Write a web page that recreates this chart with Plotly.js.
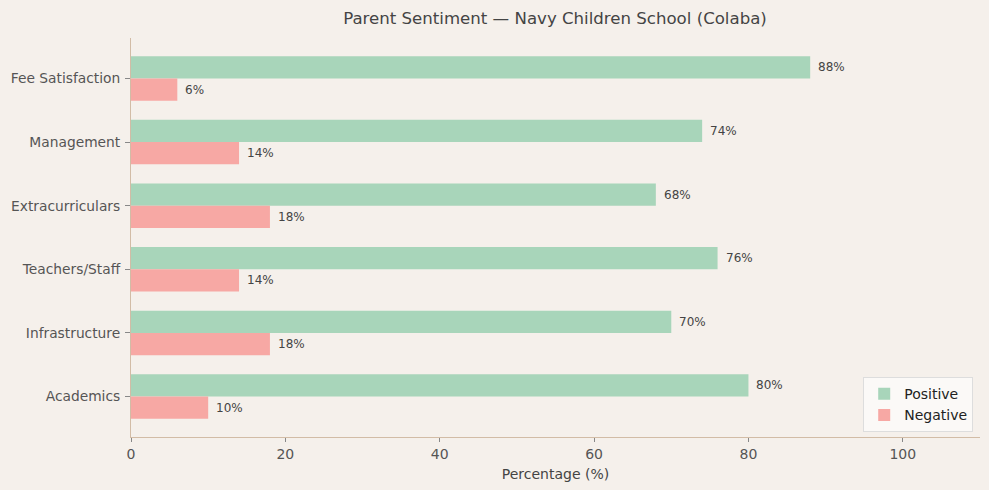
<!DOCTYPE html>
<html>
<head>
<meta charset="utf-8">
<script src="https://cdn.plot.ly/plotly-3.0.1.min.js"></script>
<style>
  body { margin: 0; background: #f5f0eb; }
  #graph { width: 989px; height: 490px; }
</style>
</head>
<body>
<div id="graph"></div>
<script>
// categories listed bottom to top, as they sit on the axis
var categories = ['Academics', 'Infrastructure', 'Teachers/Staff', 'Extracurriculars', 'Management', 'Fee Satisfaction'];
var positive = [80, 70, 76, 68, 74, 88];
var negative = [10, 18, 14, 18, 14, 6];
var xTicks = [0, 20, 40, 60, 80, 100];

var barH = 0.35;
var textCol = '#444444';
var spineCol = '#d2bca6';

var idx = categories.map(function(c, i){ return i; });

var trace1 = {
  x: positive,
  y: idx,
  type: 'bar',
  orientation: 'h',
  name: 'Positive',
  width: barH,
  offset: 0,
  marker: { color: '#a8d5ba' },
  hoverinfo: 'x'
};

var trace2 = {
  x: negative,
  y: idx,
  type: 'bar',
  orientation: 'h',
  name: 'Negative',
  width: barH,
  offset: -barH,
  marker: { color: '#f7a8a4' },
  hoverinfo: 'x'
};

// value labels just past the end of each bar
var annotations = [];
for (var i = 0; i < categories.length; i++) {
  annotations.push({
    x: positive[i], y: i + barH / 2, xref: 'x', yref: 'y',
    text: positive[i] + '%', showarrow: false, xanchor: 'left', xshift: 6,
    font: { size: 12, color: textCol }
  });
  annotations.push({
    x: negative[i], y: i - barH / 2, xref: 'x', yref: 'y',
    text: negative[i] + '%', showarrow: false, xanchor: 'left', xshift: 6,
    font: { size: 12, color: textCol }
  });
}

var layout = {
  width: 989,
  height: 490,
  paper_bgcolor: '#f5f0eb',
  plot_bgcolor: '#f5f0eb',
  font: { family: 'DejaVu Sans, sans-serif', color: textCol },
  margin: { l: 131, r: 9, t: 38, b: 53 },
  barmode: 'overlay',
  title: {
    text: 'Parent Sentiment — Navy Children School (Colaba)',
    font: { size: 16.6, color: textCol },
    x: 555 / 989, xref: 'container', xanchor: 'center', y: 0.963, yanchor: 'middle'
  },
  xaxis: {
    range: [0, 110],
    tickvals: xTicks,
    ticks: 'outside', ticklen: 4, tickcolor: '#888',
    tickfont: { size: 14, color: '#555' },
    showgrid: false, zeroline: false,
    showline: true, linecolor: spineCol, linewidth: 1,
    title: { text: 'Percentage (%)', font: { size: 14, color: textCol }, standoff: 8 }
  },
  yaxis: {
    range: [-0.635, categories.length - 1 + 0.635],
    tickvals: idx,
    ticktext: categories,
    ticks: 'outside', ticklen: 5, tickcolor: '#888',
    tickfont: { size: 13.8, color: '#555' },
    ticklabelstandoff: 2,
    showgrid: false, zeroline: false,
    showline: true, linecolor: spineCol, linewidth: 1
  },
  legend: {
    x: 0.992, y: 0.012, xanchor: 'right', yanchor: 'bottom',
    bgcolor: 'rgba(255,255,255,0.6)', bordercolor: '#dddddd', borderwidth: 1,
    font: { size: 14, color: '#222' },
    itemwidth: 30
  },
  annotations: annotations,
  showlegend: true
};

Plotly.newPlot('graph', [trace1, trace2], layout, { displayModeBar: false });
</script>
</body>
</html>
